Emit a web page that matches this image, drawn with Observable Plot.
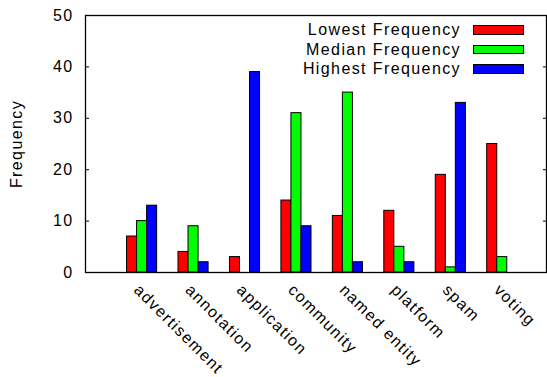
<!DOCTYPE html>
<html><head><meta charset="utf-8">
<script src="https://cdn.jsdelivr.net/npm/d3@7"></script>
<script src="https://cdn.jsdelivr.net/npm/@observablehq/plot@0.6"></script>
<style>
body{margin:0;background:#fff;}
#wrap{position:relative;width:547px;height:377px;font-family:"Liberation Sans",Arial,sans-serif;}
.lg{position:absolute;left:0;width:461px;text-align:right;font-size:16px;letter-spacing:1.4px;line-height:19.5px;height:19.5px;color:#000;white-space:nowrap;}
.sw{position:absolute;left:473px;width:51px;height:9.5px;box-sizing:border-box;border:1px solid #000;}
</style></head><body><div id="wrap"></div>
<script>
const categories = ["advertisement","annotation","application","community","named entity","platform","spam","voting"];
const seriesNames = ["Lowest Frequency","Median Frequency","Highest Frequency"];
const lowest = [7,4,3,14,11,12,19,25];
const median = [10,9,0,31,35,5,1,3];
const highest = [13,2,39,9,2,2,33,0];
const seriesColors = ["#ff0000","#00ff00","#0000ff"];
const yTicks = [0,10,20,30,40,50];
const yLabel = "Frequency";

const seriesValues = [lowest, median, highest];
const barW = 0.195;
const rows = [];
seriesValues.forEach((vals, j) => vals.forEach((v, i) => rows.push({cat: categories[i], i, series: seriesNames[j], j, value: v})));

const chart = Plot.plot({
  width: 547, height: 377,
  marginLeft: 85, marginRight: 1, marginTop: 15, marginBottom: 105,
  style: {fontFamily: '"Liberation Sans", Arial, sans-serif', fontSize: "16px", letterSpacing: "1.4px", color: "#000", background: "#fff", overflow: "visible"},
  x: {domain: [-1.1, 7.86], axis: null},
  y: {domain: [0, 50], axis: null},
  color: {domain: seriesNames, range: seriesColors},
  marks: [
    Plot.rectY(rows.filter(d => d.value > 0), {
      x1: d => d.i + (d.j - 1) * barW - barW / 2,
      x2: d => d.i + (d.j - 1) * barW + barW / 2,
      y1: 0, y2: "value", fill: "series", stroke: "#000", strokeWidth: 1
    }),
    Plot.frame({stroke: "#000", strokeWidth: 1.3}),
    Plot.axisY(yTicks, {anchor: "left", tickSize: -4, tickPadding: 16, label: null}),
    Plot.axisY(yTicks, {anchor: "right", tickSize: -4, tickFormat: () => "", label: null}),
    Plot.axisX(d3.range(categories.length), {anchor: "bottom", tickSize: 0, tickRotate: 45, textAnchor: "start", lineAnchor: "middle", tickFormat: i => categories[i], label: null, dx: -5.5, dy: 3}),
    Plot.text([yLabel], {frameAnchor: "left", textAnchor: "middle", rotate: -90, dx: -69, text: d => d})
  ]
});
const wrap = document.getElementById("wrap");
wrap.appendChild(chart);
const color = chart.scale("color");
seriesNames.forEach((name, k) => {
  const t = document.createElement("div");
  t.className = "lg";
  t.style.top = (20 + k * 19.5) + "px";
  t.textContent = name;
  wrap.appendChild(t);
  const s = document.createElement("div");
  s.className = "sw";
  s.style.top = (25 + k * 19.5) + "px";
  s.style.background = color.range[k];
  wrap.appendChild(s);
});
</script></body></html>
